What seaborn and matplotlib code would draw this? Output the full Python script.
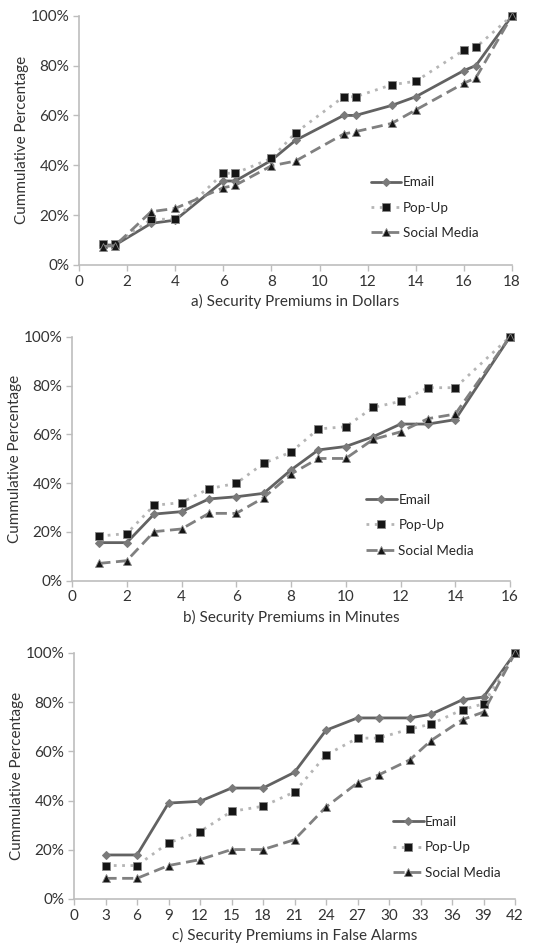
import numpy as np
import pandas as pd
import matplotlib
matplotlib.use("Agg")
import matplotlib.pyplot as plt
from matplotlib.ticker import PercentFormatter
import seaborn as sns

# a) dollars
dollars_x = [1, 1.5, 3, 4, 6, 6.5, 8, 9, 11, 11.5, 13, 14, 16, 16.5, 18]
dollars_email = [8, 8, 16.7, 18, 33.7, 33.7, 42, 50, 60, 60, 64, 67.5, 78, 80, 100]
dollars_popup = [8.4, 8.4, 18.3, 18.4, 36.8, 36.8, 42.8, 53, 67.5, 67.5, 72.3, 73.7, 86.2, 87.3, 100]
dollars_social = [7.4, 7.8, 21.4, 22.7, 31, 32, 39.8, 41.7, 52.5, 53.5, 56.8, 62.2, 72.9, 75.1, 100]

# b) minutes
minutes_x = [1, 2, 3, 4, 5, 6, 7, 8, 9, 10, 11, 12, 13, 14, 16]
minutes_email = [15.6, 15.6, 27.3, 28.3, 33.5, 34.4, 35.8, 45.4, 53.6, 55, 59, 64.2, 64.2, 66, 100]
minutes_popup = [18.3, 19.3, 30.9, 32, 37.7, 39.9, 48.1, 52.7, 62.2, 63.1, 71, 73.5, 79.1, 79.1, 100]
minutes_social = [7.1, 8.2, 20.1, 21.2, 27.6, 27.6, 34, 43.7, 50.1, 50.1, 57.9, 61, 66.4, 68.3, 100]

# c) false alarms
alarms_x = [3, 6, 9, 12, 15, 18, 21, 24, 27, 29, 32, 34, 37, 39, 42]
alarms_email = [17.9, 17.9, 39, 39.7, 45.1, 45.1, 51.5, 68.6, 73.6, 73.6, 73.6, 75.1, 81, 82.1, 100]
alarms_popup = [13.6, 13.6, 22.8, 27.4, 35.6, 37.7, 43.5, 58.5, 65.4, 65.4, 69.1, 71.1, 77, 79.3, 100]
alarms_social = [8.4, 8.4, 13.6, 16, 20.1, 20.1, 24.1, 37.4, 47.2, 50.4, 56.6, 64.4, 72.9, 76, 100]

# data, label, x max, x step, axes box in pixels (l, r, t, b), legend anchor
panels = [
    (dollars_x, dollars_email, dollars_popup, dollars_social,
     "a) Security Premiums in Dollars", 18, 2, [79, 512, 15.7, 265], (0.935, 0.082)),
    (minutes_x, minutes_email, minutes_popup, minutes_social,
     "b) Security Premiums in Minutes", 16, 2, [72, 510, 336.7, 580.7], (0.93, 0.077)),
    (alarms_x, alarms_email, alarms_popup, alarms_social,
     "c) Security Premiums in False Alarms", 42, 3, [74, 515, 653, 899], (0.98, 0.06)),
]

sns.set_theme(style="white")
plt.rcParams["font.family"] = ["Lato", "DejaVu Sans"]

W, H = 556, 949
fig = plt.figure(figsize=(W / 100, H / 100), dpi=100)

spine_col = "#bdbdbd"
text_col = "#333333"

for xs, em, pu, so, xlabel, xmax, step, (l, r, t, b), anchor in panels:
    ax = fig.add_axes([l / W, 1 - b / H, (r - l) / W, (b - t) / H])
    sns.lineplot(x=xs, y=em, ax=ax, color="#626262", lw=2, marker="D",
                 markersize=4.5, markerfacecolor="#7a7a7a", markeredgecolor="#7a7a7a",
                 label="Email", sort=False)
    sns.lineplot(x=xs, y=pu, ax=ax, color="#b5b5b5", lw=2, linestyle=(0, (1, 2)),
                 marker="s", markersize=6, markerfacecolor="#151515",
                 markeredgecolor="#888888", markeredgewidth=0.6,
                 label="Pop-Up", sort=False)
    sns.lineplot(x=xs, y=so, ax=ax, color="#808080", lw=2, linestyle=(0, (4, 2)),
                 marker="^", markersize=6, markerfacecolor="#151515",
                 markeredgecolor="#888888", markeredgewidth=0.6,
                 label="Social Media", sort=False)
    ax.set_xlim(0, xmax)
    ax.set_ylim(0, 100)
    ax.set_xticks(np.arange(0, xmax + 1, step))
    ax.set_yticks(np.arange(0, 101, 20))
    ax.yaxis.set_major_formatter(PercentFormatter(decimals=0))
    ax.set_xlabel(xlabel, fontsize=11, color=text_col, labelpad=4)
    ax.set_ylabel("Cummulative Percentage", fontsize=11, color=text_col, labelpad=1)
    ax.tick_params(axis="both", labelsize=11, colors=text_col, length=4,
                   width=1, color=spine_col, direction="out", pad=3)
    ax.tick_params(axis="both", left=True, bottom=True)
    for side in ["top", "right"]:
        ax.spines[side].set_visible(False)
    for side in ["left", "bottom"]:
        ax.spines[side].set_color(spine_col)
        ax.spines[side].set_linewidth(1.2)
    ax.legend(loc="lower right", bbox_to_anchor=anchor, frameon=False,
              fontsize=9.7, handlelength=2.3, handletextpad=0.1,
              labelspacing=1.0, borderaxespad=0)
    for ln in ax.get_lines():
        ln.set_clip_on(False)

fig.savefig("out.png", dpi=100, facecolor="white")
